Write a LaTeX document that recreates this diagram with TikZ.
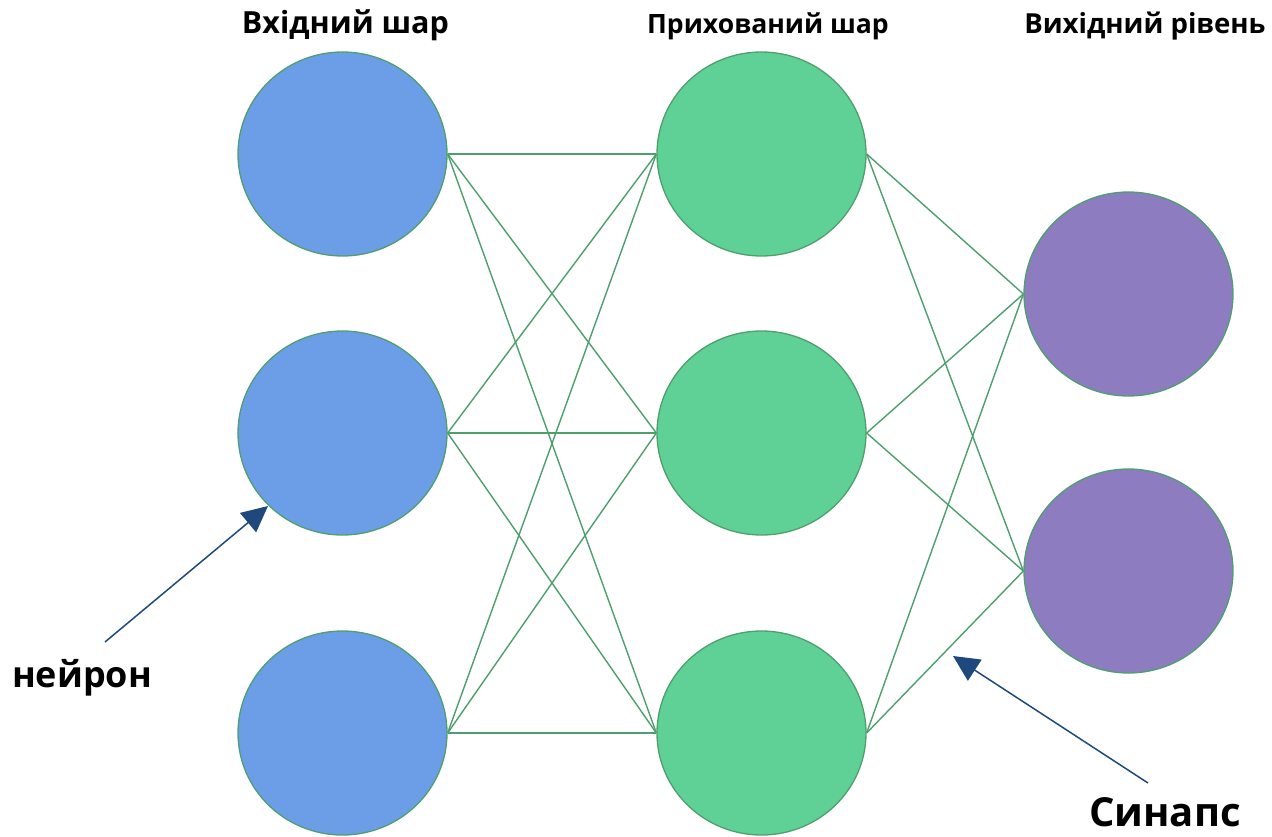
\documentclass[tikz,border=0pt]{standalone}
\usepackage{fontspec}
\setmainfont{Open Sans}
\usetikzlibrary{shapes.geometric,arrows.meta}
\definecolor{inblue}{HTML}{6C9EE8}
\definecolor{hidgreen}{HTML}{60D196}
\definecolor{outpurple}{HTML}{8E7CC0}
\definecolor{edgegreen}{HTML}{4E9F6E}
\definecolor{arrowblue}{HTML}{1F497D}
\begin{document}
\begin{tikzpicture}[x=1pt,y=-1pt,
  neuron/.style={ellipse,draw=edgegreen,line width=1.3pt,minimum width=209pt,minimum height=204pt,inner sep=0pt},
  syn/.style={draw=edgegreen,line width=1.4pt},
  pointer/.style={draw=arrowblue,line width=1.5pt,-{Triangle[length=26pt,width=25pt]}},
  title/.style={font=\bfseries,anchor=base,inner sep=0pt}]
\useasboundingbox (0,0) rectangle (1272,836);
\node[neuron,fill=inblue] (i1) at (342.5,154) {};
\node[neuron,fill=inblue] (i2) at (342.5,433) {};
\node[neuron,fill=inblue] (i3) at (342.5,733) {};
\node[neuron,fill=hidgreen] (h1) at (761.5,154) {};
\node[neuron,fill=hidgreen] (h2) at (761.5,433) {};
\node[neuron,fill=hidgreen] (h3) at (761.5,733) {};
\node[neuron,fill=outpurple] (o1) at (1128.5,294) {};
\node[neuron,fill=outpurple] (o2) at (1128.5,571) {};
\foreach \a in {i1,i2,i3}{\foreach \b in {h1,h2,h3}{\draw[syn] (\a.east) -- (\b.west);}}
\foreach \a in {h1,h2,h3}{\foreach \b in {o1,o2}{\draw[syn] (\a.east) -- (\b.west);}}
\node[title,font=\bfseries\fontsize{30.5}{34}\selectfont] (t1) at (345.5,33) {Вхідний шар};
\node[title,font=\bfseries\fontsize{26.6}{30}\selectfont] (t2) at (768,33) {Прихований шар};
\node[title,font=\bfseries\fontsize{27.6}{31}\selectfont] (t3) at (1145,33) {Вихідний рівень};
\node[title,font=\bfseries\fontsize{36}{40}\selectfont] (lneu) at (82,687) {нейрон};
\node[title,font=\bfseries\fontsize{40}{46}\selectfont] (lsyn) at (1165,826) {Синапс};
\coordinate (a1s) at (105,642);
\coordinate (a1e) at (268,506);
\coordinate (a2s) at (1148,783);
\coordinate (a2e) at (953,656);
\draw[pointer] (a1s) -- (a1e);
\draw[pointer] (a2s) -- (a2e);
\end{tikzpicture}
\end{document}
